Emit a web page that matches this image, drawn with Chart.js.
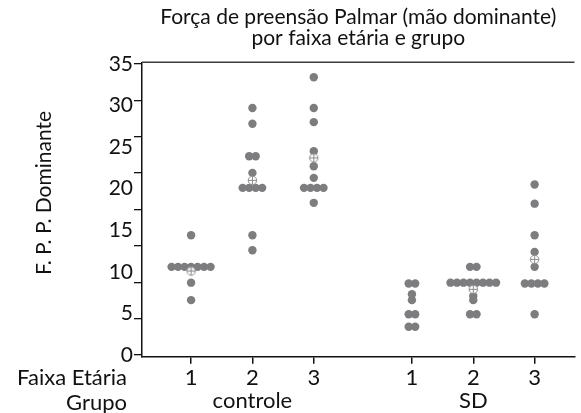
<!DOCTYPE html>
<html>
<head>
<meta charset="utf-8">
<script src="https://cdn.jsdelivr.net/npm/chart.js@4/dist/chart.umd.min.js"></script>
<style>
  html, body { margin: 0; padding: 0; background: #ffffff; }
  #wrap { width: 581px; height: 413px; }
</style>
</head>
<body>
<div id="wrap"><canvas id="c" width="581" height="413"></canvas></div>
<script>
// ---------------- data ----------------
const titleLines = ['Força de preensão Palmar (mão dominante)', 'por faixa etária e grupo'];
const yAxisTitle = 'F. P. P. Dominante';
const rowLabels = ['Faixa Etária', 'Grupo'];
const groups = ['controle', 'SD'];
const ageBands = ['1', '2', '3'];
const yTickLabels = [0, 5, 10, 15, 20, 25, 30, 35];

// F.P.P. values, one array per group x age band
const controle1 = [14.4, 10.6, 10.6, 10.6, 10.6, 10.6, 10.6, 10.6, 8.7, 6.6];
const controle2 = [29.7, 27.8, 23.9, 23.9, 21.9, 20.1, 20.1, 20.1, 20.1, 14.4, 12.6];
const controle3 = [33.4, 29.7, 28.0, 24.5, 22.7, 21.3, 20.1, 20.1, 20.1, 20.1, 18.3];
const sd1 = [8.6, 8.6, 7.3, 6.6, 4.9, 4.9, 3.4, 3.4];
const sd2 = [10.6, 10.6, 8.7, 8.7, 8.7, 8.7, 8.7, 8.7, 8.7, 8.7, 7.1, 6.6, 4.9, 4.9];
const sd3 = [20.5, 18.2, 14.4, 12.4, 10.6, 8.6, 8.6, 8.6, 8.6, 4.9];
// group means (marker), null where hidden
const means = [10.1, 21.0, 23.7, null, 7.9, 11.5];

// ---------------- layout constants ----------------
const cells = [controle1, controle2, controle3, sd1, sd2, sd3];
const GROUP_GAP = 0.6;      // extra space between groups (x units)
const DOT_STEP = 0.106;     // horizontal stacking step (x units)
const Y_MIN = -0.2, Y_MAX = 35.2;
const X_MIN = 0.2, X_MAX = 7.25;
const FONT = 'Lato, "Noto Sans", sans-serif';

const cellX = [];
groups.forEach((g, gi) => ageBands.forEach((b, bi) => cellX.push(1 + gi * (ageBands.length + GROUP_GAP) + bi)));
const groupX = groups.map((g, gi) => 1 + gi * (ageBands.length + GROUP_GAP) + (ageBands.length - 1) / 2);

// stack equal values side by side
const dots = [];
cells.forEach((vals, ci) => {
  const counts = new Map();
  vals.forEach(v => counts.set(v, (counts.get(v) || 0) + 1));
  counts.forEach((n, v) => {
    for (let i = 0; i < n; i++) dots.push({ x: cellX[ci] + (i - (n - 1) / 2) * DOT_STEP, y: v });
  });
});
const meanPts = [];
means.forEach((m, ci) => { if (m !== null) meanPts.push({ x: cellX[ci], y: m }); });

// mean marker: circle with a plus
const mk = document.createElement('canvas');
mk.width = 11; mk.height = 11;
(() => {
  const c = mk.getContext('2d');
  c.fillStyle = 'rgba(255,255,255,0.9)';
  c.strokeStyle = '#8c8c8c';
  c.lineWidth = 1;
  c.beginPath(); c.arc(5.5, 5.5, 4.2, 0, Math.PI * 2); c.fill(); c.stroke();
  c.beginPath(); c.moveTo(5.5, 1.3); c.lineTo(5.5, 9.7); c.moveTo(1.3, 5.5); c.lineTo(9.7, 5.5); c.stroke();
})();

const yMarkStep = 35 / 8;

const framePlugin = {
  id: 'frame',
  afterDraw(chart) {
    const { ctx, chartArea, scales } = chart;
    ctx.save();
    ctx.strokeStyle = '#3c3c3c';
    ctx.lineWidth = 1.6;
    ctx.beginPath();
    ctx.moveTo(chartArea.left, chartArea.top);
    ctx.lineTo(chartArea.right, chartArea.top);
    ctx.stroke();
    const rowY = (scale) => {
      const items = scale.getLabelItems ? scale.getLabelItems() : scale._labelItems;
      const it = items[0];
      return { y: it.options.translation[1] + (it.textOffset || 0), base: it.options.textBaseline };
    };
    ctx.fillStyle = '#111111';
    ctx.textAlign = 'right';
    const r1 = rowY(scales.x), r2 = rowY(scales.xg);
    ctx.font = '22px ' + FONT;
    ctx.textBaseline = r1.base; ctx.fillText(rowLabels[0], 127, r1.y);
    ctx.textBaseline = r2.base; ctx.fillText(rowLabels[1], 127, r2.y + 2);
    // y axis title
    ctx.translate(44, 193);
    ctx.rotate(-Math.PI / 2);
    ctx.textAlign = 'center';
    ctx.textBaseline = 'middle';
    ctx.font = '21px ' + FONT;
    ctx.fillText(yAxisTitle, 0, 0);
    ctx.restore();
  }
};

new Chart(document.getElementById('c'), {
  type: 'scatter',
  data: {
    datasets: [
      { label: 'média', data: meanPts, pointStyle: mk, pointRadius: 5.5, order: 0 },
      { label: 'F.P.P.', data: dots, pointStyle: 'circle', pointRadius: 4.2, pointBackgroundColor: '#7d7d80', pointBorderWidth: 0, order: 1 }
    ]
  },
  options: {
    responsive: false,
    devicePixelRatio: 1,
    animation: false,
    layout: { padding: 0 },
    plugins: {
      legend: { display: false },
      tooltip: { enabled: false },
      title: {
        display: true, text: titleLines, fullSize: false,
        color: '#111111', font: { family: FONT, size: 21, weight: 'normal', lineHeight: 1.03 },
        padding: { top: 6, bottom: 13 }
      }
    },
    scales: {
      x: {
        type: 'linear', position: 'bottom', min: X_MIN, max: X_MAX, weight: 0,
        afterBuildTicks: s => { s.ticks = cellX.map(v => ({ value: v })); },
        afterFit: s => { s.height = 33; },
        ticks: { autoSkip: false, padding: 1, color: '#111111', font: { family: FONT, size: 22 },
          callback: (v, i) => ageBands[i % ageBands.length] },
        grid: { drawOnChartArea: false, drawTicks: true, tickLength: 7, color: '#111111', lineWidth: 1.5 },
        border: { display: true, color: '#111111', width: 1.5 }
      },
      xg: {
        type: 'linear', position: 'bottom', min: X_MIN, max: X_MAX, weight: 1,
        afterBuildTicks: s => { s.ticks = groupX.map(v => ({ value: v })); },
        afterFit: s => { s.height = 23.3; },
        ticks: { autoSkip: false, padding: 0, color: '#111111', font: { family: FONT, size: 22, lineHeight: 1 },
          callback: (v, i) => groups[i] },
        grid: { display: false, drawTicks: false },
        border: { display: false }
      },
      yMarks: {
        type: 'linear', position: 'left', min: Y_MIN, max: Y_MAX, weight: 0,
        afterBuildTicks: s => { const t = []; for (let k = 0; k <= 8; k++) t.push({ value: k * yMarkStep }); s.ticks = t; },
        afterFit: s => { s.width = 8; },
        ticks: { display: false },
        grid: { drawOnChartArea: false, drawTicks: true, tickLength: 8, color: '#111111', lineWidth: 1.3 },
        border: { display: true, color: '#111111', width: 1.5 }
      },
      y: {
        type: 'linear', position: 'left', min: Y_MIN, max: Y_MAX, weight: 1,
        afterBuildTicks: s => { s.ticks = yTickLabels.map(v => ({ value: v })); },
        afterFit: s => { s.width = 134; },
        ticks: { autoSkip: false, padding: 1, color: '#111111', font: { family: FONT, size: 21 } },
        grid: { display: false, drawTicks: false },
        border: { display: false }
      }
    }
  },
  plugins: [framePlugin]
});
</script>
</body>
</html>
